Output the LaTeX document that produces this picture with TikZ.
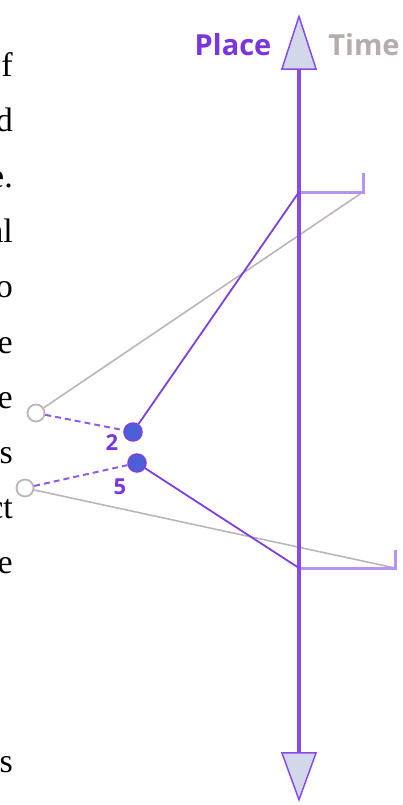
\documentclass[tikz,border=0pt]{standalone}
\usepackage{fontspec}
\setmainfont{Liberation Serif}
\newfontfamily\labelfont{Open Sans}
\usetikzlibrary{arrows.meta}
\definecolor{placepurple}{HTML}{7B35DC}
\definecolor{axispurple}{HTML}{8A4AE8}
\definecolor{linepurple}{HTML}{7D3EE2}
\definecolor{bracketpurple}{HTML}{B892F2}
\definecolor{greyline}{HTML}{BDB5B5}
\definecolor{timegrey}{HTML}{B5ADAD}
\definecolor{dotblue}{HTML}{4B5FD6}
\definecolor{arrowfill}{HTML}{D3D7EA}

\begin{document}
\begin{tikzpicture}[
  x=1pt, y=-1pt,
  fragment/.style={anchor=base east, inner sep=0pt, font=\fontsize{34}{40}\selectfont},
  axislabel/.style={anchor=base, inner sep=0pt, font=\labelfont\bfseries\fontsize{29}{32}\selectfont},
  numlabel/.style={inner sep=0pt, text=placepurple, font=\labelfont\bfseries\fontsize{22}{24}\selectfont},
  place/.style={circle, draw=linepurple, fill=dotblue, line width=1.5pt,
                minimum size=18pt, inner sep=0pt},
  event/.style={circle, draw=greyline, fill=white, line width=1.8pt,
                minimum size=17pt, inner sep=0pt},
  axis/.style={draw=axispurple, line width=4pt},
  bracket/.style={draw=bracketpurple, line width=3pt},
  link/.style={draw=linepurple, line width=1.8pt},
  echo/.style={draw=greyline, line width=1.6pt},
  trace/.style={draw=linepurple!85, line width=2pt, dash pattern=on 6pt off 4pt}
]
\useasboundingbox (0,0) rectangle (402,805);

% cut-off text column on the left
\foreach \yy/\txt [count=\i] in {77/f, 132/d, 187/e., 242/al, 297/o, 353/e,
                                 408/e, 463/s, 518/ct, 573/e, 772/s}
  \node[fragment] (frag\i) at (13,\yy) {\txt};

% axis labels
\node[axislabel, text=placepurple] (placelbl) at (233,56) {Place};
\node[axislabel, text=timegrey] (timelbl) at (364,56) {Time};

% axis ends and bracket corners
\coordinate (axtop) at (299,14);
\coordinate (axbot) at (299,802);
\coordinate (hiAx) at (299,192);
\coordinate (hiEnd) at (363,192);
\coordinate (hiTick) at (363,173);
\coordinate (loAx) at (299,568);
\coordinate (loEnd) at (395,568);
\coordinate (loTick) at (395,550);

% events and places
\node[event] (ev1) at (36,413) {};
\node[event] (ev2) at (25,488) {};
\node[place] (pl2) at (133,432) {};
\node[place] (pl5) at (137,463) {};
\node[numlabel] (num2) at (112,443) {2};
\node[numlabel] (num5) at (120,487) {5};

\draw[echo] (hiEnd) -- (ev1);
\draw[echo] (loEnd) -- (ev2);
\draw[bracket] (hiAx) -- (hiEnd) -- (hiTick);
\draw[bracket] (loAx) -- (loEnd) -- (loTick);
\draw[axis, {Triangle[length=56pt,width=36pt,fill=arrowfill,line width=1.5pt]}-{Triangle[length=50pt,width=36pt,fill=arrowfill,line width=1.5pt]}]
  (axtop) -- (axbot);
\draw[link] (hiAx) -- (pl2);
\draw[link] (loAx) -- (pl5);
\draw[trace] (ev1) -- (pl2);
\draw[trace] (ev2) -- (pl5);
\end{tikzpicture}
\end{document}
